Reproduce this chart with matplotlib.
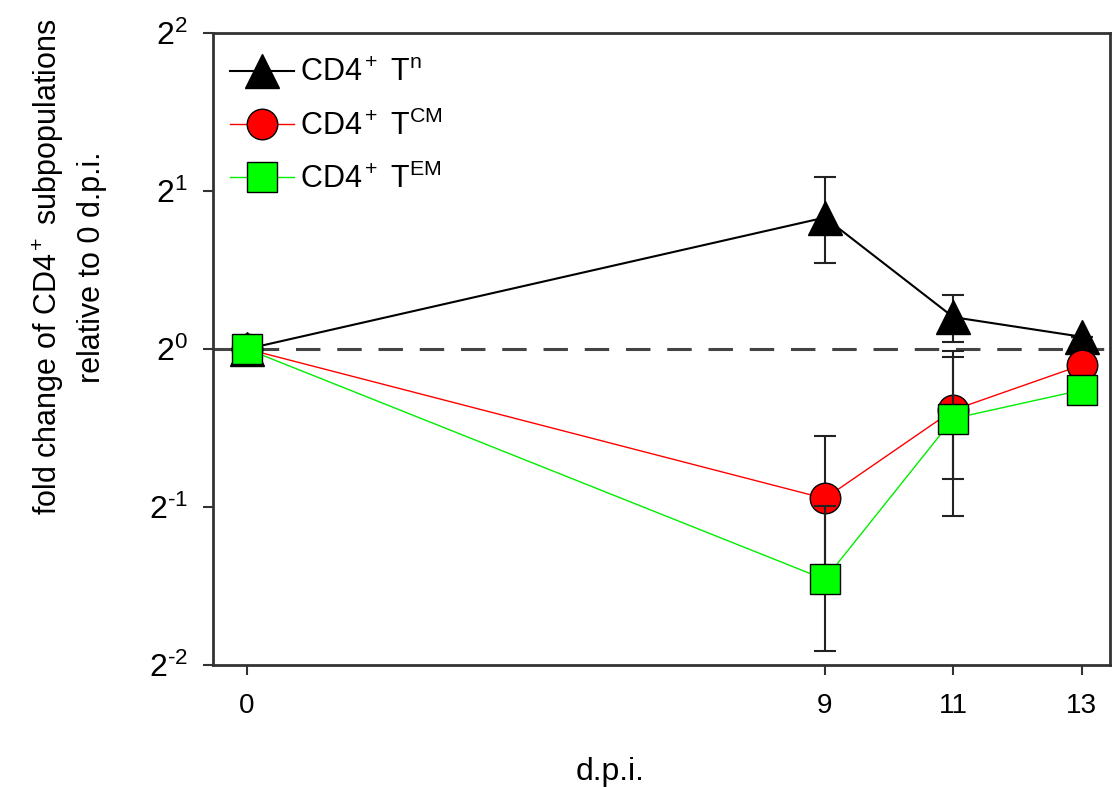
import numpy as np
import matplotlib
matplotlib.use("Agg")
import matplotlib.pyplot as plt
from matplotlib.ticker import FixedLocator, FixedFormatter, NullLocator

plt.rcParams['font.family'] = ['Liberation Sans', 'DejaVu Sans']
plt.rcParams['mathtext.fontset'] = 'custom'
plt.rcParams['mathtext.rm'] = 'Liberation Sans'
plt.rcParams['mathtext.it'] = 'Liberation Sans'
plt.rcParams['mathtext.bf'] = 'Liberation Sans'
plt.rcParams['mathtext.default'] = 'regular'

# days post infection
days = [0, 9, 11, 13]

# fold change relative to 0 d.p.i.
tn = [1.0, 1.78, 1.15, 1.055]
tn_lo = [0.0, 0.32, 0.12, 0.0]
tn_hi = [0.0, 0.35, 0.12, 0.0]

tcm = [1.0, 0.519, 0.765, 0.932]
tcm_lo = [0.0, 0.163, 0.20, 0.0]
tcm_hi = [0.0, 0.163, 0.20, 0.0]

tem = [1.0, 0.364, 0.737, 0.835]
tem_lo = [0.0, 0.098, 0.256, 0.0]
tem_hi = [0.0, 0.139, 0.256, 0.0]

labels = ["CD4$^+$ T$^{n}$", "CD4$^+$ T$^{CM}$", "CD4$^+$ T$^{EM}$"]
y_ticks = [0.25, 0.5, 1, 2, 4]
y_ticklabels = ["$2^{\\text{-}2}$", "$2^{\\text{-}1}$", "$2^{0}$", "$2^{1}$", "$2^{2}$"]

fig = plt.figure(figsize=(11.12, 7.87), dpi=100)
ax = fig.add_axes([212.7 / 1112, 122 / 787, (1110 - 212.7) / 1112, 632 / 787])

# reference line at 2^0
ax.axhline(1, color="#444444", lw=2.2, dashes=(8, 5.5), zorder=1)

series = [
    (tn, tn_lo, tn_hi, "^", "black", "black", 1.5, 24),
    (tcm, tcm_lo, tcm_hi, "o", "#ff0000", "#ff0000", 1.0, 22),
    (tem, tem_lo, tem_hi, "s", "#00ee00", "#00ff00", 1.0, 21),
]
for (vals, lo, hi, mk, lc, fc, lw, ms), lab in zip(series, labels):
    ax.errorbar(days, vals, yerr=[lo, hi], fmt="none", ecolor="#222222",
                elinewidth=1.5, capsize=8, capthick=1.5, zorder=2)
    ax.plot(days, vals, "-", marker=mk, color=lc, lw=lw, mfc=fc,
            mec="black", mew=1.0, ms=ms, label=lab, zorder=2)

ax.set_yscale("log", base=2)
ax.set_ylim(0.25, 4)
ax.set_xlim(-0.53, 13.44)
ax.yaxis.set_major_locator(FixedLocator(y_ticks))
ax.yaxis.set_major_formatter(FixedFormatter(y_ticklabels))
ax.yaxis.set_minor_locator(NullLocator())
ax.set_xticks(days)
ax.set_xticklabels([str(d) for d in days])

for sp in ax.spines.values():
    sp.set_linewidth(2)
    sp.set_color("#333333")
ax.tick_params(axis="both", direction="out", length=7, width=1.5,
               color="#333333")
ax.tick_params(axis="x", pad=13, labelsize=20)
ax.tick_params(axis="y", pad=11, labelsize=23)

ax.set_xlabel("d.p.i.", fontsize=23, va="baseline")
ax.xaxis.set_label_coords(0.443, -0.182)
ax.set_ylabel("fold change of CD4$^+$ subpopulations\nrelative to 0 d.p.i.",
              fontsize=22, linespacing=1.45)
ax.yaxis.set_label_coords(-0.118, 0.63)

ax.legend(loc="upper left", bbox_to_anchor=(0.019, 0.96), frameon=False,
          fontsize=22, handlelength=2.1, handletextpad=0.2,
          labelspacing=0.72, borderpad=0, borderaxespad=0)

fig.savefig("out.png", dpi=100)
